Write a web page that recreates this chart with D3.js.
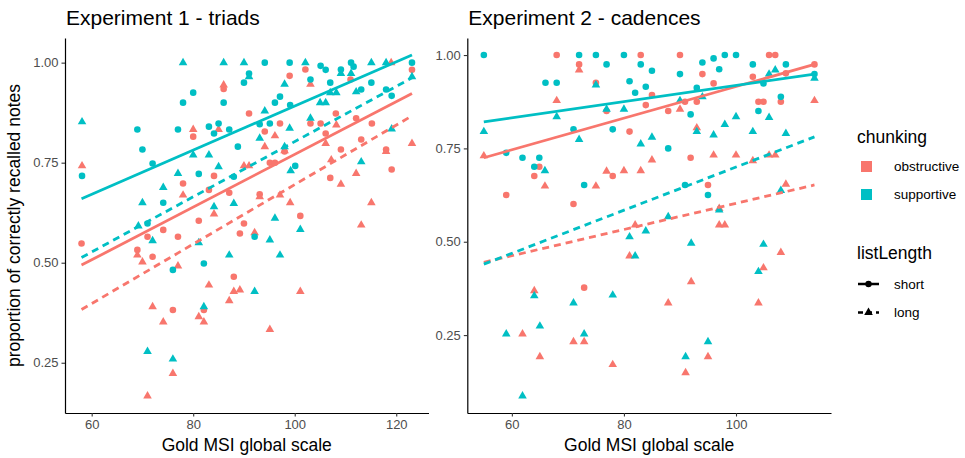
<!DOCTYPE html>
<html>
<head>
<meta charset="utf-8">
<script src="https://cdn.jsdelivr.net/npm/d3@7"></script>
<style>
  body { margin: 0; background: #fff; }
  svg text { font-family: "Liberation Sans", Arial, sans-serif; }
</style>
</head>
<body>
<div id="chart"></div>
<script>
var width = 965, height = 458;

var chunkColors = {obstructive: "#F8766D", supportive: "#00BFC4"};
var chunkLevels = ["obstructive", "supportive"];
var lengthLevels = ["short", "long"];
var panelTitles = ["Experiment 1 - triads", "Experiment 2 - cadences"];
var xTitle = "Gold MSI global scale";
var yTitle = "proportion of correctly recalled notes";
var xTicks1 = [60, 80, 100, 120];
var xTicks2 = [60, 80, 100];
var yTicks = [0.25, 0.50, 0.75, 1.00];

// Experiment 1 points: [Gold MSI, proportion]
var e1SupShort = [[58.1,0.717],[80,0.925],[78,0.9],[86,0.9],[69,0.833],[77,0.833],[83.1,0.84],[84.1,0.823],[85,0.848],
  [87.1,0.833],[88.8,0.79],[70,0.783],[72,0.748],[81.1,0.722],[88,0.715],[74.1,0.65],[94.1,1.0],[99,1.0],[105.1,0.992],
  [106.1,0.982],[111.1,1.0],[111.6,0.99],[123.1,1.0],[91,0.973],[90,0.95],[103.1,0.958],[109.1,0.983],[107,0.95],
  [115.1,0.95],[97.1,0.915],[96.1,0.9],[99.1,0.894],[113.1,0.933],[118,0.933],[119.1,0.917],[93.1,0.846],[95.1,0.848],
  [100.1,0.742],[71,0.598],[76,0.482],[82.1,0.498],[92.1,0.565]];
var e1SupLong = [[58.1,0.852],[78,1.0],[86,1.0],[80,0.769],[83.1,0.769],[85,0.74],[77,0.723],[74.1,0.688],[70,0.65],
  [84.1,0.64],[88,0.648],[90,1.0],[102.1,1.0],[115.1,1.0],[118,1.0],[123.1,0.965],[91,0.965],[109.1,0.973],[111.1,0.973],
  [98,0.946],[105,0.9],[106.1,0.9],[107,0.925],[108.2,0.925],[112.1,0.927],[94.1,0.879],[99,0.836],[103.1,0.861],
  [119.1,0.834],[93.1,0.811],[98,0.79],[99.2,0.73],[113.1,0.752],[69.2,0.592],[72,0.555],[81.1,0.55],[87.1,0.519],
  [82.1,0.39],[71,0.278],[76,0.259],[96.1,0.611],[101.1,0.583],[95.1,0.557],[97.1,0.519],[92.1,0.428]];
var e1ObsShort = [[86,0.934],[80,0.815],[84.1,0.717],[78,0.698],[83.1,0.682],[87.1,0.675],[123.1,0.982],[102.1,0.983],
  [99,0.967],[111,0.958],[91,0.873],[97.1,0.848],[103.1,0.848],[105.1,0.848],[108.1,0.873],[112.1,0.861],[115.2,0.848],
  [94.1,0.828],[98,0.778],[106.1,0.823],[113.1,0.808],[118,0.783],[95.1,0.75],[96.1,0.75],[109.1,0.783],[107,0.712],
  [119.1,0.733],[93.1,0.671],[71,0.565],[74.1,0.582],[77,0.565],[81.1,0.605],[58,0.548],[69,0.532],[72,0.515],
  [89.2,0.573],[88,0.465],[76,0.382],[82.1,0.382],[90,0.598],[101.1,0.617]];
var e1ObsLong = [[58.1,0.742],[86,0.944],[80,0.833],[85,0.833],[78,0.669],[119,1.0],[103.1,0.946],[108.2,0.844],
  [94.1,0.79],[96.1,0.817],[98,0.78],[106.1,0.798],[118,0.778],[123.1,0.798],[90,0.742],[91,0.742],[107.2,0.757],
  [112.1,0.723],[109.1,0.696],[93.1,0.665],[97.1,0.669],[99.1,0.65],[115.1,0.65],[84.1,0.622],[69,0.519],[70,0.502],
  [77,0.492],[83.1,0.444],[88,0.428],[87.1,0.405],[89.2,0.432],[72,0.39],[81.1,0.365],[82.1,0.352],[74.1,0.352],
  [76,0.223],[71,0.167],[92.1,0.575],[113.1,0.594],[101.1,0.428],[95.1,0.333]];

// Experiment 2 points
var e2SupShort = [[55,1.0],[72,1.0],[75,1.0],[66,0.926],[68,0.926],[71,0.801],[59,0.738],[61.9,0.725],[64.9,0.725],
  [64,0.701],[72.9,0.652],[76.9,0.975],[80,1.0],[83,0.975],[85,0.958],[81,0.93],[83.9,0.915],[82,0.899],[90,0.949],
  [94,0.98],[96,0.991],[98,1.0],[100,1.0],[97,0.962],[93,0.912],[103,0.975],[108.9,0.975],[104.9,0.924],[114,0.949],
  [108,0.888],[104,0.85],[91.9,0.841],[78,0.801],[87.9,0.75],[90.9,0.652],[95,0.625]];
var e2SupLong = [[75,0.92],[68,0.835],[55,0.795],[72,0.774],[65.9,0.69],[94,0.888],[105.9,0.949],[107,0.96],[114,0.938],
  [105.9,0.833],[100,0.835],[98,0.814],[96,0.786],[93,0.795],[103,0.795],[108.9,0.79],[90,0.878],[85,0.78],[83,0.762],
  [108,0.637],[76.9,0.855],[80,0.855],[64,0.355],[71,0.336],[65,0.274],[59,0.253],[72.9,0.253],[61.9,0.087],
  [87.9,0.567],[97,0.585],[83.9,0.529],[81,0.513],[82,0.462],[92,0.496],[104.9,0.493],[104,0.42],[78,0.357],
  [95,0.232],[91,0.192]];
var e2ObsShort = [[68,1.0],[72,0.975],[75,0.926],[64.9,0.701],[64,0.676],[59,0.625],[71,0.601],[83,1.0],[85,0.893],
  [90,1.0],[94,0.949],[96,0.924],[105.9,1.0],[107,1.0],[103,0.942],[108.9,0.951],[114,0.975],[104,0.875],[104.9,0.875],
  [108,0.875],[93,0.875],[90.9,0.875],[83.9,0.866],[87.9,0.85],[81,0.795],[91.9,0.725],[78,0.676],[95,0.652],
  [76.9,0.85],[72.9,0.377]];
var e2ObsLong = [[72,0.96],[68,0.878],[55,0.73],[65.9,0.649],[75,0.649],[76.9,0.689],[80,0.69],[83,0.69],[114,0.878],
  [93,0.805],[90,0.855],[96,0.732],[100,0.732],[103,0.717],[105.9,0.732],[107,0.732],[85,0.719],[108.9,0.654],
  [97,0.589],[64,0.369],[61.9,0.253],[71,0.232],[72.9,0.232],[65,0.192],[82,0.545],[97,0.545],[98,0.545],[81,0.462],
  [108,0.471],[104.9,0.43],[92,0.393],[87.9,0.336],[104,0.336],[95,0.192],[78,0.171],[91,0.149]];

// fitted lines: [x start, y start, x end, y end]
var e1Fits = {obsShort: [58, 0.494, 123.1, 0.923], obsLong: [58, 0.383, 123.1, 0.867],
              supShort: [58, 0.660, 123.1, 1.019], supLong: [58, 0.513, 123.1, 0.962]};
var e2Fits = {obsShort: [55, 0.725, 114, 0.975], obsLong: [55, 0.445, 114, 0.652],
              supShort: [55, 0.821, 114, 0.949], supLong: [55, 0.440, 114, 0.781]};

var panels = [
  {title: panelTitles[0], left: 65, right: 428.5, ticks: xTicks1, fits: e1Fits,
   groups: {obsShort: e1ObsShort, obsLong: e1ObsLong, supShort: e1SupShort, supLong: e1SupLong}},
  {title: panelTitles[1], left: 467.3, right: 831, ticks: xTicks2, fits: e2Fits,
   groups: {obsShort: e2ObsShort, obsLong: e2ObsLong, supShort: e2SupShort, supLong: e2SupLong}}
];
var panelTop = 38, panelBottom = 413;

var groupStyle = {
  obsShort: {color: chunkColors.obstructive, shape: "circle", dash: null},
  obsLong:  {color: chunkColors.obstructive, shape: "triangle", dash: "7,5"},
  supShort: {color: chunkColors.supportive, shape: "circle", dash: null},
  supLong:  {color: chunkColors.supportive, shape: "triangle", dash: "7,5"}
};
var groupOrder = ["obsShort", "obsLong", "supShort", "supLong"];

var svg = d3.select("#chart").append("svg")
    .attr("width", width)
    .attr("height", height);

// ggplot-like 5% expansion
function expand(ext) {
  var d = (ext[1] - ext[0]) * 0.05;
  return [ext[0] - d, ext[1] + d];
}

var tri = d3.symbol().type(d3.symbolTriangle).size(32);

panels.forEach(function(p) {
  var xs = [], ys = [];
  groupOrder.forEach(function(k) {
    p.groups[k].forEach(function(d) { xs.push(d[0]); ys.push(d[1]); });
    var f = p.fits[k];
    xs.push(f[0], f[2]); ys.push(f[1], f[3]);
  });
  var x = d3.scaleLinear().domain(expand(d3.extent(xs))).range([p.left, p.right]);
  var y = d3.scaleLinear().domain(expand(d3.extent(ys))).range([panelBottom, panelTop]);

  var g = svg.append("g");

  // points
  groupOrder.forEach(function(k) {
    var st = groupStyle[k];
    if (st.shape == "circle") {
      g.append("g").selectAll("circle")
        .data(p.groups[k])
        .enter().append("circle")
          .attr("cx", function(d) { return x(d[0]); })
          .attr("cy", function(d) { return y(d[1]); })
          .attr("r", 3.3)
          .style("fill", st.color);
    } else {
      g.append("g").selectAll("path")
        .data(p.groups[k])
        .enter().append("path")
          .attr("d", tri)
          .attr("transform", function(d) { return "translate(" + x(d[0]) + "," + y(d[1]) + ")"; })
          .style("fill", st.color);
    }
  });

  // fitted lines
  var line = d3.line().x(function(d) { return x(d[0]); }).y(function(d) { return y(d[1]); });
  groupOrder.forEach(function(k) {
    var f = p.fits[k], st = groupStyle[k];
    g.append("path")
      .datum([[f[0], f[1]], [f[2], f[3]]])
      .attr("d", line)
      .style("fill", "none")
      .style("stroke", st.color)
      .style("stroke-width", 2.8)
      .style("stroke-dasharray", st.dash);
  });

  // axes
  var xAxis = g.append("g")
      .attr("transform", "translate(0," + panelBottom + ")")
      .call(d3.axisBottom(x).tickValues(p.ticks).tickSize(3.5).tickPadding(3).tickSizeOuter(0));
  var yAxis = g.append("g")
      .attr("transform", "translate(" + p.left + ",0)")
      .call(d3.axisLeft(y).tickValues(yTicks).tickFormat(d3.format(".2f")).tickSize(3.5).tickPadding(3).tickSizeOuter(0));
  [xAxis, yAxis].forEach(function(a) {
    a.select(".domain").style("stroke", "#000").style("stroke-width", 1.2);
    a.selectAll(".tick line").style("stroke", "#333").style("stroke-width", 1.1);
    a.selectAll(".tick text").style("fill", "#4D4D4D").style("font-size", "13px")
      .style("font-family", "'Liberation Sans', Arial, sans-serif");
  });

  // titles
  g.append("text")
    .attr("x", p.left + 1)
    .attr("y", 25)
    .style("font-size", "21px")
    .style("fill", "#000")
    .text(p.title);

  g.append("text")
    .attr("x", (p.left + p.right) / 2)
    .attr("y", 451)
    .attr("text-anchor", "middle")
    .style("font-size", "17.5px")
    .style("fill", "#000")
    .text(xTitle);
});

svg.append("text")
  .attr("transform", "translate(20," + ((panelTop + panelBottom) / 2) + ") rotate(-90)")
  .attr("text-anchor", "middle")
  .style("font-size", "17.5px")
  .style("fill", "#000")
  .text(yTitle);

// legends
var leg = svg.append("g");
leg.append("text").attr("x", 857).attr("y", 143).style("font-size", "17.5px").text("chunking");
chunkLevels.forEach(function(c, i) {
  var cy = 166.5 + i * 28;
  leg.append("rect").attr("x", 861).attr("y", cy - 5.5).attr("width", 11).attr("height", 11)
    .style("fill", chunkColors[c]);
  leg.append("text").attr("x", 894).attr("y", cy + 4.5).style("font-size", "13.5px").style("fill", "#000").text(c);
});

leg.append("text").attr("x", 857).attr("y", 259).style("font-size", "17.5px").text("listLength");
lengthLevels.forEach(function(l, i) {
  var cy = 284 + i * 28.5;
  leg.append("line").attr("x1", 858).attr("x2", 879).attr("y1", cy).attr("y2", cy)
    .style("stroke", "#000").style("stroke-width", 2.5)
    .style("stroke-dasharray", l == "long" ? "5,4" : null);
  if (l == "short") {
    leg.append("circle").attr("cx", 868.5).attr("cy", cy).attr("r", 3.2).style("fill", "#000");
  } else {
    leg.append("path").attr("d", tri).attr("transform", "translate(868.5," + cy + ")").style("fill", "#000");
  }
  leg.append("text").attr("x", 894).attr("y", cy + 4.5).style("font-size", "13.5px").style("fill", "#000").text(l);
});
</script>
</body>
</html>
